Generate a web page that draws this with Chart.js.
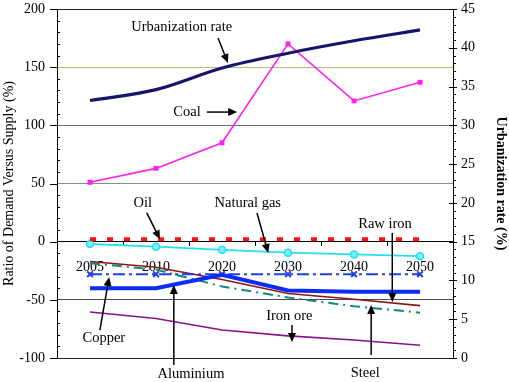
<!DOCTYPE html>
<html>
<head>
<meta charset="utf-8">
<script src="https://cdn.jsdelivr.net/npm/chart.js@4/dist/chart.umd.min.js"></script>
<style>
html,body{margin:0;padding:0;background:#fff;}
#wrap{width:509px;height:382px;}
</style>
</head>
<body>
<div id="wrap"><canvas id="c" width="509" height="382"></canvas></div>
<script>
// ---- data ----
const years = ['2005', '2010', '2020', '2030', '2040', '2050'];
const urbanization = [33.2, 34.6, 37.4, 39.3, 40.9, 42.3];
const coal = [51, 63, 85, 170, 121, 137];
const oil = [2, 2, 2, 2, 2, 2];
const naturalGas = [-2, -4.3, -7, -9.5, -11, -12.5];
const copper = [-28, -28, -28, -28, -28, -28];
const aluminium = [-40, -40, -28.5, -42, -43, -43];
const rawIron = [-17, -22, -32.5, -44.5, -49.5, -55];
const steel = [-18.5, -24, -38.5, -48, -55.5, -61];
const ironOre = [-60.5, -66, -76, -81, -84.5, -89];
const leftTicks = [-100, -50, 0, 50, 100, 150, 200];
const rightTicks = [0, 5, 10, 15, 20, 25, 30, 35, 40, 45];

// annotation labels (category index / left-axis value coordinates)
const notes = [
  {text: 'Urbanization rate', at: [1.39, 184.6], from: [1.94, 175], to: [2.09, 153.6]},
  {text: 'Coal', at: [1.47, 111.4], from: [1.77, 111.4], to: [2.23, 111.4]},
  {text: 'Oil', at: [0.80, 33.3], from: [0.86, 24.7], to: [1.06, 2]},
  {text: 'Natural gas', at: [2.39, 33.3], from: [2.53, 24.7], to: [2.70, -9.7]},
  {text: 'Raw iron', at: [4.47, 15.2], from: [4.58, 7.5], to: [4.58, -51.8]},
  {text: 'Copper', at: [0.21, -82.7], from: [0.15, -76], to: [0.29, -30.4]},
  {text: 'Aluminium', at: [1.53, -113.7], from: [1.27, -106], to: [1.27, -37.2]},
  {text: 'Iron ore', at: [3.02, -63.9], from: [3.06, -71.6], to: [3.06, -86.2]},
  {text: 'Steel', at: [4.17, -112.8], from: [4.26, -97.4], to: [4.26, -54.4]}
];

const FONT = "'Liberation Serif', 'Times New Roman', serif";

function gridColor(v) {
  if (v === 150) return '#b9bc6e';
  if (v === 100) return '#6e6e6e';
  if (v === 50) return '#8a8a8a';
  if (v === 0) return '#000000';
  if (v === -50) return '#4a4a4a';
  return '#222222';
}

const decor = {
  id: 'decor',
  afterDraw(chart) {
    const ctx = chart.ctx;
    const x = chart.scales.x, y = chart.scales.y, y2 = chart.scales.y2;
    const ca = chart.chartArea;
    ctx.save();
    ctx.strokeStyle = '#000';
    ctx.lineWidth = 1;
    // left axis ticks
    for (let v = y.min; v <= y.max; v += 10) {
      const py = Math.round(y.getPixelForValue(v)) + 0.5;
      ctx.beginPath();
      if (v % 50 === 0) { ctx.moveTo(ca.left - 7, py); ctx.lineTo(ca.left, py); }
      else { ctx.moveTo(ca.left, py); ctx.lineTo(ca.left + 3, py); }
      ctx.stroke();
    }
    // right axis ticks
    for (let v = y2.min; v <= y2.max; v += 1) {
      const py = Math.round(y2.getPixelForValue(v)) + 0.5;
      ctx.beginPath();
      if (v % 5 === 0) { ctx.moveTo(ca.right - 4, py); ctx.lineTo(ca.right + 4, py); }
      else { ctx.moveTo(ca.right, py); ctx.lineTo(ca.right + 3, py); }
      ctx.stroke();
    }
    // annotations
    ctx.fillStyle = '#000';
    ctx.font = '14.5px ' + FONT;
    ctx.textAlign = 'center';
    ctx.textBaseline = 'middle';
    notes.forEach(n => {
      ctx.fillText(n.text, x.getPixelForValue(n.at[0]), y.getPixelForValue(n.at[1]));
      const x1 = x.getPixelForValue(n.from[0]), y1 = y.getPixelForValue(n.from[1]);
      const x2 = x.getPixelForValue(n.to[0]), y2p = y.getPixelForValue(n.to[1]);
      const ang = Math.atan2(y2p - y1, x2 - x1);
      const hl = 9, hw = 4;
      ctx.lineWidth = 1.5;
      ctx.beginPath();
      ctx.moveTo(x1, y1);
      ctx.lineTo(x2 - Math.cos(ang) * hl * 0.8, y2p - Math.sin(ang) * hl * 0.8);
      ctx.stroke();
      ctx.beginPath();
      ctx.moveTo(x2, y2p);
      ctx.lineTo(x2 - Math.cos(ang) * hl - Math.sin(ang) * hw, y2p - Math.sin(ang) * hl + Math.cos(ang) * hw);
      ctx.lineTo(x2 - Math.cos(ang) * hl + Math.sin(ang) * hw, y2p - Math.sin(ang) * hl - Math.cos(ang) * hw);
      ctx.closePath();
      ctx.fill();
    });
    ctx.restore();
  }
};

Chart.defaults.font.family = FONT;
Chart.defaults.font.size = 14;
Chart.defaults.color = '#000';

new Chart(document.getElementById('c'), {
  type: 'line',
  data: {
    labels: years,
    datasets: [
      {label: 'Aluminium', data: aluminium, borderColor: '#0a2cf5', borderWidth: 4, pointRadius: 0, yAxisID: 'y'},
      {label: 'Copper', data: copper, borderColor: '#1f3fe0', borderWidth: 2, borderDash: [12, 4, 3, 4], pointStyle: 'crossRot', pointRadius: 4, pointBorderWidth: 2, pointBorderColor: '#1f3fe0', yAxisID: 'y'},
      {label: 'Urbanization rate', data: urbanization, borderColor: '#15166b', borderWidth: 3.2, pointRadius: 0, cubicInterpolationMode: 'monotone', yAxisID: 'y2'},
      {label: 'Coal', data: coal, borderColor: '#ff22ee', backgroundColor: '#ff22ee', borderWidth: 1.6, pointStyle: 'rect', pointRadius: 3.5, pointBorderWidth: 0, yAxisID: 'y'},
      {label: 'Oil', data: oil, borderColor: '#ff1010', borderWidth: 4, borderDash: [6, 11], pointRadius: 0, yAxisID: 'y'},
      {label: 'Natural gas', data: naturalGas, borderColor: '#22e0f0', backgroundColor: '#7ff0f8', borderWidth: 1.8, pointStyle: 'circle', pointRadius: 3.5, pointBorderWidth: 1.5, pointBorderColor: '#22e0f0', yAxisID: 'y'},
      {label: 'Raw iron', data: rawIron, borderColor: '#8e1414', borderWidth: 1.6, pointRadius: 0, yAxisID: 'y'},
      {label: 'Steel', data: steel, borderColor: '#0e8a80', borderWidth: 2, borderDash: [10, 5, 2, 5], pointRadius: 0, yAxisID: 'y'},
      {label: 'Iron ore', data: ironOre, borderColor: '#8a1088', borderWidth: 1.6, pointRadius: 0, yAxisID: 'y'}
    ]
  },
  options: {
    responsive: false,
    animation: false,
    layout: {padding: {top: 9, bottom: 24, left: 0, right: 0}},
    plugins: {legend: {display: false}, tooltip: {enabled: false}},
    scales: {
      x: {
        type: 'category',
        offset: true,
        position: {y: 0},
        grid: {drawOnChartArea: false, drawTicks: true, tickLength: 4, tickColor: '#000', offset: true},
        border: {color: '#000', width: 1},
        ticks: {padding: 13, maxRotation: 0, font: {size: 14, family: FONT}, color: '#000'}
      },
      y: {
        type: 'linear',
        position: 'left',
        min: -100, max: 200,
        afterBuildTicks(s) { s.ticks = leftTicks.map(v => ({value: v})); },
        afterFit(s) { s.width = 57; s.paddingTop = 0; s.paddingBottom = 0; },
        grid: {color: c => gridColor(c.tick.value), lineWidth: 1, drawTicks: false},
        border: {color: '#000', width: 1},
        ticks: {padding: 12, font: {size: 14, family: FONT}, color: '#000'},
        title: {display: true, text: 'Ratio of Demand Versus Supply (%)', font: {size: 14, family: FONT}, color: '#000', padding: {top: 1, bottom: 0}}
      },
      y2: {
        type: 'linear',
        position: 'right',
        min: 0, max: 45,
        afterBuildTicks(s) { s.ticks = rightTicks.map(v => ({value: v})); },
        afterFit(s) { s.width = 56; s.paddingTop = 0; s.paddingBottom = 0; },
        grid: {drawOnChartArea: false, drawTicks: false},
        border: {color: '#000', width: 1},
        ticks: {padding: 8, font: {size: 14, family: FONT}, color: '#000'},
        title: {display: true, text: 'Urbanization rate (%)', font: {size: 14, family: FONT, weight: 'bold'}, color: '#000', padding: {top: 0, bottom: 0}}
      }
    }
  },
  plugins: [decor]
});
</script>
</body>
</html>
